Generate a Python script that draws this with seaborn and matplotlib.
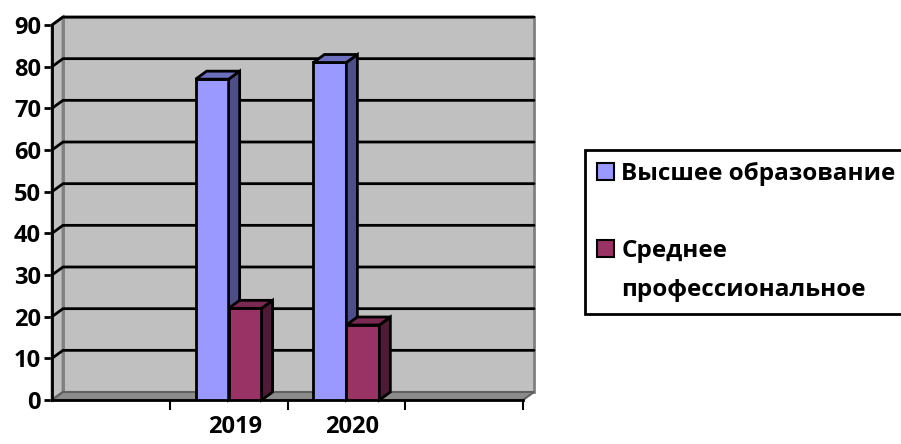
import pandas as pd
import matplotlib
matplotlib.use("Agg")
import matplotlib.pyplot as plt
import matplotlib.transforms as mtransforms
from matplotlib.patches import Polygon, Patch
import seaborn as sns

# data
categories = [" ", "2019", "2020", "  "]
years = ["2019", "2020"]
higher_edu = [77, 81]
vocational = [22, 18]
series_names = ["Высшее образование", "Среднее профессиональное"]
legend_labels = ["Высшее образование", " ", "Среднее", "профессиональное"]
y_ticks = [0, 10, 20, 30, 40, 50, 60, 70, 80, 90]

front_colors = ["#9999FF", "#993366"]
side_colors = ["#4F4F88", "#4E1A35"]
top_colors = ["#6E6EBE", "#7A2A52"]

df = pd.DataFrame({
    "year": years * 2,
    "value": higher_edu + vocational,
    "series": [series_names[0]] * 2 + [series_names[1]] * 2,
})

sns.set_style("white")
plt.rcParams["font.family"] = ["Open Sans", "DejaVu Sans"]
plt.rcParams["font.weight"] = "bold"
plt.rcParams["text.color"] = "black"
plt.rcParams["xtick.color"] = "black"
plt.rcParams["ytick.color"] = "black"

fig = plt.figure(figsize=(9.01, 4.44), dpi=100)
ax = fig.add_axes([52 / 901, 44 / 444, 471 / 901, 375 / 444])
ax.set_facecolor("none")

sns.barplot(data=df, x="year", y="value", hue="series", order=categories,
            hue_order=series_names, palette=front_colors, saturation=1,
            width=0.56, edgecolor="black", linewidth=2, legend=False, ax=ax)

ax.set_xlim(-0.5, 3.5)
ax.set_ylim(0, 90)
ax.set_xlabel("")
ax.set_ylabel("")

DX, DY = 11, 8
ident = mtransforms.IdentityTransform()


def disp(x, y):
    return ax.transData.transform((x, y))


def back(pt):
    return (pt[0] + DX, pt[1] + DY)


def add_poly(pts, fc, ec, lw, z):
    poly = Polygon(pts, closed=True, facecolor=fc, edgecolor=ec, linewidth=lw,
                   transform=ident, clip_on=False, zorder=z)
    ax.add_artist(poly)


# walls and floor
x_lo, x_hi = -0.5, 3.5
bl, br, tl, tr = disp(x_lo, 0), disp(x_hi, 0), disp(x_lo, 90), disp(x_hi, 90)
add_poly([back(bl), back(br), back(tr), back(tl)], "#C0C0C0", "#808080", 2, 0.5)
add_poly([bl, back(bl), back(tl), tl], "#C0C0C0", "#808080", 2, 0.6)
add_poly([bl, br, back(br), back(bl)], "#8C8C8C", "#606060", 1.5, 0.7)

# gridlines on the side and back wall
for v in y_ticks[1:]:
    p0 = disp(x_lo, v)
    p1 = back(p0)
    p2 = back(disp(x_hi, v))
    ax.plot([p0[0], p1[0], p2[0]], [p0[1], p1[1], p2[1]], color="black",
            lw=2, transform=ident, clip_on=False, zorder=1)

# 3d faces of the bars
for i, cont in enumerate(ax.containers):
    z = 3 + i
    for p in cont.patches:
        p.set_zorder(z)
        h = p.get_height()
        if not h or h != h:
            continue
        x0 = p.get_x()
        x1 = x0 + p.get_width()
        a, b = disp(x1, 0), disp(x1, h)
        add_poly([a, back(a), back(b), b], side_colors[i], "black", 2, z)
        c = disp(x0, h)
        add_poly([c, back(c), back(b), b], top_colors[i], "black", 2, z)

for s in ["top", "right"]:
    ax.spines[s].set_visible(False)
for s in ["left", "bottom"]:
    ax.spines[s].set_color("black")
    ax.spines[s].set_linewidth(2)
    ax.spines[s].set_zorder(2)

ax.set_yticks(y_ticks)
ax.tick_params(axis="y", direction="out", length=6, width=2, color="black",
               labelsize=17, pad=2, left=True)
ax.set_xticks(range(len(categories)))
ax.set_xticklabels(categories)
ax.set_xticks([0.5, 1.5, 2.5, 3.5], minor=True)
ax.tick_params(axis="x", which="major", length=0, labelsize=17, pad=11)
ax.tick_params(axis="x", which="minor", direction="out", length=7, width=1.5,
               color="black", bottom=True)
for lab in ax.get_xticklabels() + ax.get_yticklabels():
    lab.set_fontweight("bold")
for lab in ax.get_xticklabels():
    lab.set_transform(lab.get_transform() + mtransforms.Affine2D().translate(6, 0))

handles = [
    Patch(facecolor=front_colors[0], edgecolor="black", linewidth=1.5),
    Patch(facecolor="none", edgecolor="none"),
    Patch(facecolor=front_colors[1], edgecolor="black", linewidth=1.5),
    Patch(facecolor="none", edgecolor="none"),
]
leg = fig.legend(handles, legend_labels, loc="upper left",
                 bbox_to_anchor=(585 / 901, 1 - 150 / 444), frameon=True,
                 fancybox=False, edgecolor="black", framealpha=1,
                 prop={"size": 17.5, "weight": "bold"}, handlelength=0.7,
                 handleheight=0.7, handletextpad=0.3, labelspacing=0.6,
                 borderpad=0.5, borderaxespad=0)
leg.get_frame().set_linewidth(2)

fig.savefig("out.png", dpi=100, facecolor="white")
